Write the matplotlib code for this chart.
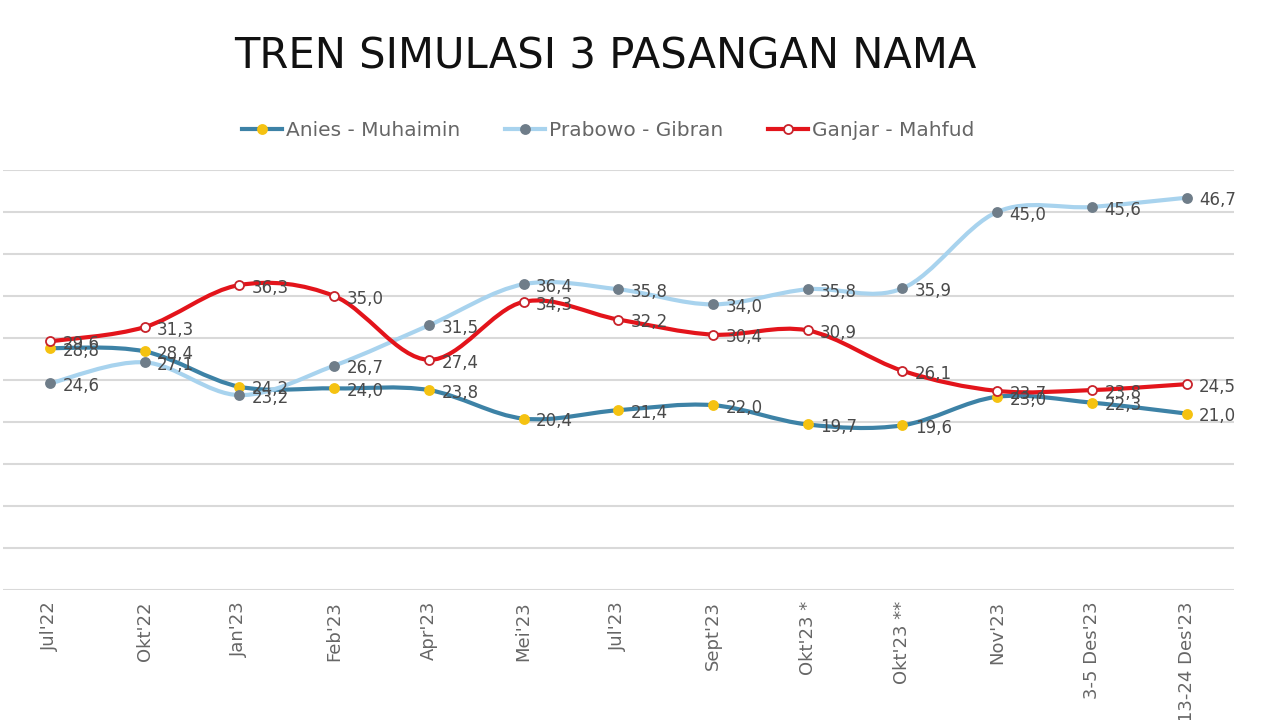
import matplotlib
matplotlib.use("Agg")
import matplotlib.pyplot as plt
from matplotlib.path import Path
from matplotlib.patches import PathPatch
from matplotlib.lines import Line2D
import numpy as np

# data
periods = ["Jul'22", "Okt'22", "Jan'23", "Feb'23", "Apr'23", "Mei'23", "Jul'23",
           "Sept'23", "Okt'23 *", "Okt'23 **", "Nov'23", "3-5 Des'23", "13-24 Des'23"]
anies    = [28.8, 28.4, 24.2, 24.0, 23.8, 20.4, 21.4, 22.0, 19.7, 19.6, 23.0, 22.3, 21.0]
prabowo  = [24.6, 27.1, 23.2, 26.7, 31.5, 36.4, 35.8, 34.0, 35.8, 35.9, 45.0, 45.6, 46.7]
ganjar   = [29.6, 31.3, 36.3, 35.0, 27.4, 34.3, 32.2, 30.4, 30.9, 26.1, 23.7, 23.8, 24.5]

series = [
    # name, values, line colour, marker face, marker edge
    ("Anies - Muhaimin", anies,   "#3d82a6", "#f5c211", "#f5c211"),
    ("Prabowo - Gibran", prabowo, "#a8d3ee", "#6f7d89", "#6f7d89"),
    ("Ganjar - Mahfud",  ganjar,  "#e3141b", "white",   "#c8232b"),
]


def smooth_path(xs, ys):
    # Excel-style smoothed line: Catmull-Rom turned into cubic Bezier segments
    pts = np.column_stack([xs, ys]).astype(float)
    ext = np.vstack([pts[0], pts, pts[-1]])
    verts = [pts[0]]
    codes = [Path.MOVETO]
    for i in range(len(pts) - 1):
        p0, p1, p2, p3 = ext[i], ext[i + 1], ext[i + 2], ext[i + 3]
        verts += [p1 + (p2 - p0) / 6, p2 - (p3 - p1) / 6, p2]
        codes += [Path.CURVE4] * 3
    return Path(verts, codes)


fig = plt.figure(figsize=(12.8, 7.2), dpi=100)
ax = fig.add_axes([0.002, 0.1806, 0.962, 0.5833])

x = np.arange(len(periods))
for name, vals, lc, mf, me in series:
    ax.add_patch(PathPatch(smooth_path(x, vals), facecolor="none", edgecolor=lc,
                           lw=3.0, zorder=2, capstyle="round"))
    ax.plot(x, vals, ls="none", marker="o", ms=6.5, mfc=mf, mec=me, mew=1.3, zorder=3)
    for xi, v in zip(x, vals):
        ax.annotate(f"{v:.1f}".replace(".", ","), (xi, v), xytext=(9, -2),
                    textcoords="offset points", ha="left", va="center",
                    fontsize=12, color="#4a4a4a", zorder=4)

ax.set_xlim(-0.5, len(periods) - 0.5)
ax.set_ylim(0, 50)
ax.set_yticks(np.arange(0, 51, 5))
ax.yaxis.grid(True, color="#d9d9d9", lw=1.5)
ax.set_axisbelow(True)
ax.tick_params(axis="y", left=False, labelleft=False)
ax.tick_params(axis="x", length=0, pad=8)
ax.set_xticks(x)
ax.set_xticklabels(periods, rotation=90, fontsize=13, color="#666666", va="top")
for s in ax.spines.values():
    s.set_visible(False)

handles = [Line2D([], [], color=lc, lw=3.0, marker="o", ms=6.5, mfc=mf, mec=me, mew=1.3)
           for _, _, lc, mf, me in series]
fig.legend(handles, [s[0] for s in series], loc="center", bbox_to_anchor=(0.475, 0.819),
           ncol=3, frameon=False, fontsize=14.5, handlelength=2.0, handletextpad=0.2,
           columnspacing=2.2, labelcolor="#666666")

fig.text(0.473, 0.922, "TREN SIMULASI 3 PASANGAN NAMA", ha="center", va="center",
         fontsize=30, color="#111111")

fig.savefig("out.png", dpi=100)
